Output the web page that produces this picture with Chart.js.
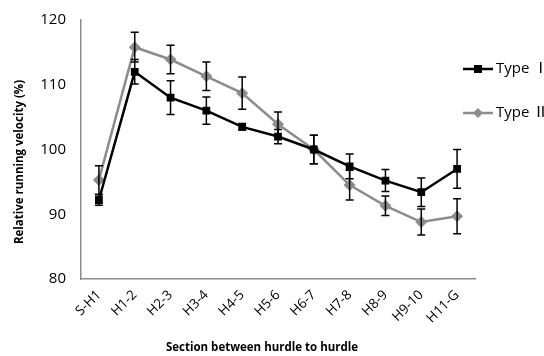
<!DOCTYPE html>
<html>
<head>
<meta charset="utf-8">
<script src="https://cdn.jsdelivr.net/npm/chart.js@4"></script>
<style>
    html, body { margin: 0; padding: 0; background: #fff; }
    #wrap { width: 544px; height: 356px; position: relative; }
</style>
</head>
<body>
<div id="wrap"><canvas id="chart"></canvas></div>
<script>
// Данные графика
const sections = ['S-H1', 'H1-2', 'H2-3', 'H3-4', 'H4-5', 'H5-6', 'H6-7', 'H7-8', 'H8-9', 'H9-10', 'H11-G'];
const typeOne = [92.2, 112.0, 108.0, 106.0, 103.5, 102.0, 100.0, 97.4, 95.2, 93.4, 97.0];
const typeOneErr = [0.8, 1.9, 2.6, 2.1, 0.5, 1.1, 2.2, 1.9, 1.7, 2.2, 3.0];
const typeTwo = [95.3, 115.8, 113.9, 111.3, 108.7, 103.9, 100.0, 94.5, 91.3, 88.8, 89.7];
const typeTwoErr = [2.2, 2.3, 2.2, 2.2, 2.5, 1.9, 2.2, 2.3, 1.5, 2.0, 2.7];
const yTicks = [80, 90, 100, 110, 120];

const FONT = "'Open Sans', 'Noto Sans', sans-serif";

// Плагин для усов погрешности
const errorBarsPlugin = {
    id: 'errorBars',
    afterDatasetsDraw(chart) {
        const ctx = chart.ctx;
        const x = chart.scales.x;
        const y = chart.scales.y;
        ctx.save();
        ctx.strokeStyle = '#000';
        ctx.lineWidth = 1.5;
        chart.data.datasets.forEach(ds => {
            ds.data.forEach((v, i) => {
                const e = ds.errors[i];
                const px = x.getPixelForValue(i);
                const top = y.getPixelForValue(v + e);
                const bot = y.getPixelForValue(v - e);
                ctx.beginPath();
                ctx.moveTo(px, top); ctx.lineTo(px, bot);
                ctx.moveTo(px - 4, top); ctx.lineTo(px + 4, top);
                ctx.moveTo(px - 4, bot); ctx.lineTo(px + 4, bot);
                ctx.stroke();
            });
        });
        ctx.restore();
    }
};

// Подписи осей и легенда
const labelsPlugin = {
    id: 'labels',
    afterDraw(chart) {
        const ctx = chart.ctx;
        ctx.save();
        ctx.fillStyle = '#000';
        ctx.font = 'bold 11.5px ' + FONT;
        ctx.textAlign = 'center';
        ctx.textBaseline = 'middle';
        ctx.fillText('Section between hurdle to hurdle', 262, 348);
        ctx.translate(20, 162);
        ctx.rotate(-Math.PI / 2);
        ctx.fillText('Relative running velocity (%)', 0, 0);
        ctx.restore();

        // Легенда
        const items = [
            { ds: chart.data.datasets[0], y: 69 },
            { ds: chart.data.datasets[1], y: 113 }
        ];
        ctx.save();
        items.forEach(it => {
            ctx.strokeStyle = it.ds.borderColor;
            ctx.lineWidth = 2.5;
            ctx.beginPath();
            ctx.moveTo(463, it.y); ctx.lineTo(493, it.y);
            ctx.stroke();
            ctx.fillStyle = it.ds.borderColor;
            if (it.ds.pointStyle === 'rect') {
                ctx.fillRect(474, it.y - 4, 8, 8);
            } else {
                ctx.beginPath();
                ctx.moveTo(478, it.y - 5); ctx.lineTo(483, it.y);
                ctx.lineTo(478, it.y + 5); ctx.lineTo(473, it.y);
                ctx.closePath(); ctx.fill();
            }
            ctx.fillStyle = '#000';
            ctx.font = "15px 'Open Sans', 'Noto Sans CJK JP', sans-serif";
            ctx.textAlign = 'left';
            ctx.textBaseline = 'middle';
            ctx.fillText(it.ds.label, 496, it.y);
        });
        ctx.restore();
    }
};

new Chart(document.getElementById('chart'), {
    type: 'line',
    data: {
        labels: sections,
        datasets: [
            {
                label: 'Type \u2160',
                data: typeOne,
                errors: typeOneErr,
                borderColor: '#000',
                backgroundColor: '#000',
                borderWidth: 2.5,
                pointStyle: 'rect',
                pointRadius: 5.5,
                pointBorderWidth: 0,
                tension: 0
            },
            {
                label: 'Type \u2161',
                data: typeTwo,
                errors: typeTwoErr,
                borderColor: '#8c8c8c',
                backgroundColor: '#8c8c8c',
                borderWidth: 2.5,
                pointStyle: 'rectRot',
                pointRadius: 6,
                pointBorderWidth: 0,
                tension: 0
            }
        ]
    },
    options: {
        responsive: true,
        maintainAspectRatio: false,
        animation: false,
        layout: { padding: { left: 0, right: 69, top: 20, bottom: 0 } },
        plugins: {
            legend: { display: false },
            tooltip: { enabled: false }
        },
        scales: {
            x: {
                offset: true,
                grid: { display: false, drawTicks: false },
                border: { color: '#8c8c8c', width: 1.5 },
                ticks: {
                    color: '#000',
                    font: { family: FONT, size: 13.5 },
                    minRotation: 45,
                    maxRotation: 45,
                    padding: 8
                },
                afterFit: s => { s.height = 77; }
            },
            y: {
                min: 80,
                max: 120,
                afterBuildTicks: s => { s.ticks = yTicks.map(v => ({ value: v })); },
                grid: { display: false, drawTicks: true, tickLength: 5, tickColor: '#8c8c8c', tickWidth: 1.5, drawOnChartArea: false },
                border: { color: '#8c8c8c', width: 1.5 },
                ticks: {
                    color: '#000',
                    font: { family: FONT, size: 15 },
                    padding: 10
                },
                afterFit: s => { s.width = 81; }
            }
        }
    },
    plugins: [errorBarsPlugin, labelsPlugin]
});
</script>
</body>
</html>
